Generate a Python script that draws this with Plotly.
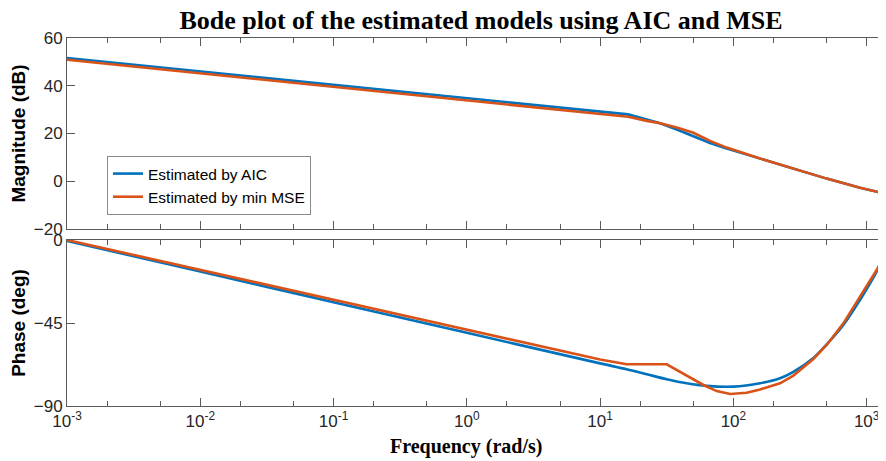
import numpy as np
import plotly.graph_objects as go

# ---- data (frequency in rad/s) ----
mag_freq_aic = [1e-3, 1e-2, 1e-1, 1e0, 1e1, 16.2, 22.4, 28.2, 37.6, 50.1, 66.8, 89.1, 158.5, 281.8, 501.2, 891.3, 1400.0]
mag_aic = [51.6, 46.0, 40.4, 34.8, 29.2, 28.0, 25.9, 24.3, 21.7, 18.9, 16.0, 13.7, 9.5, 5.3, 1.1, -2.7, -5.3]

mag_freq_mse = [1e-3, 1e-2, 1e-1, 1e0, 1e1, 16.2, 22.4, 28.2, 37.6, 50.1, 66.8, 89.1, 158.5, 281.8, 501.2, 891.3, 1400.0]
mag_mse = [50.9, 45.2, 39.5, 33.9, 28.2, 27.0, 25.3, 24.3, 22.5, 20.3, 16.9, 14.1, 9.5, 5.3, 1.1, -2.7, -5.3]

ph_freq_aic = [1e-3, 1e-2, 1e-1, 1e0, 1e1, 15.8, 22.4, 31.6, 44.7, 63.1, 100.0, 158.5, 223.9, 281.8, 398.1, 501.2, 668.3, 891.3, 1188.5, 1400.0]
ph_aic = [-0.5, -17.1, -33.7, -50.3, -66.9, -70.1, -72.8, -75.5, -77.7, -79.1, -79.5, -77.7, -75.0, -71.5, -64.0, -56.6, -46.1, -32.5, -17.2, -6.3]

ph_freq_mse = [1e-3, 1e-2, 1e-1, 1e0, 1e1, 15.8, 31.6, 59.6, 75.0, 94.4, 125.9, 158.5, 223.9, 281.8, 398.1, 501.2, 668.3, 891.3, 1188.5, 1400.0]
ph_mse = [0.0, -16.2, -32.4, -48.6, -64.8, -67.4, -67.4, -78.6, -81.9, -83.5, -82.8, -81.0, -77.7, -73.5, -64.5, -56.9, -45.2, -30.7, -16.3, -6.3]

series_names = ["Estimated by AIC", "Estimated by min MSE"]
colors = ["#0072BD", "#D95319"]

x_tickvals = [1e-3, 1e-2, 1e-1, 1e0, 1e1, 1e2, 1e3]
x_ticktext = ["10<sup>-3</sup>", "10<sup>-2</sup>", "10<sup>-1</sup>", "10<sup>0</sup>",
              "10<sup>1</sup>", "10<sup>2</sup>", "10<sup>3</sup>"]

# page body has an ~8px offset; size the figure so it fits the 886x461 window
OFF = 8
W, H = 886 - OFF, 461 - OFF
ml, mr, mt = 67 - OFF, 0, 38 - OFF
plot_bottom = 406 - OFF
mb = H - plot_bottom

fig = go.Figure()
fig.add_trace(go.Scatter(x=mag_freq_aic, y=mag_aic, mode="lines", name=series_names[0],
                         line=dict(color=colors[0], width=2.6), xaxis="x", yaxis="y"))
fig.add_trace(go.Scatter(x=mag_freq_mse, y=mag_mse, mode="lines", name=series_names[1],
                         line=dict(color=colors[1], width=2.6), xaxis="x", yaxis="y"))
fig.add_trace(go.Scatter(x=ph_freq_aic, y=ph_aic, mode="lines", showlegend=False,
                         line=dict(color=colors[0], width=2.6, shape="spline", smoothing=1.0),
                         xaxis="x2", yaxis="y2"))
fig.add_trace(go.Scatter(x=ph_freq_mse, y=ph_mse, mode="lines", showlegend=False,
                         line=dict(color=colors[1], width=2.6), xaxis="x2", yaxis="y2"))

axcol = "#5a5a5a"
tickfont = dict(family="Liberation Sans, Arial", size=17, color="#262626")
common_x = dict(type="log", range=[-3, 3.145], tickvals=x_tickvals, ticktext=x_ticktext,
                ticks="inside", ticklen=8, automargin=False,
                tickcolor=axcol, showline=True, linecolor=axcol, linewidth=1, mirror="ticks",
                showgrid=False, zeroline=False,
                minor=dict(ticks="inside", ticklen=5, tickcolor=axcol, showgrid=False),
                tickfont=tickfont)
common_y = dict(ticks="inside", ticklen=8, tickcolor=axcol, showline=True, linecolor=axcol,
                linewidth=1, showgrid=False, zeroline=False, tickfont=tickfont, automargin=False)

plot_h = H - mt - mb
top_dom = [(406 - 229) / plot_h, 1.0]
bot_dom = [0.0, (406 - 240) / plot_h]

fig.update_layout(
    width=W, height=H,
    margin=dict(l=ml, r=mr, t=mt, b=mb, autoexpand=False),
    paper_bgcolor="white", plot_bgcolor="white",
    title=dict(text="<b>Bode plot of the estimated models using AIC and MSE</b>",
               x=(481 - OFF) / W, xanchor="center", y=1 - (20 - OFF) / H, yanchor="middle",
               font=dict(family="Liberation Serif, Times New Roman", size=26, color="black")),
    xaxis=dict(common_x, anchor="y", showticklabels=False),
    xaxis2=dict(common_x, anchor="y2", matches="x"),
    yaxis=dict(common_y, domain=top_dom, range=[-20, 60], tickvals=[-20, 0, 20, 40, 60],
               anchor="x",
               title=dict(text="<b>Magnitude (dB)</b>", standoff=8,
                          font=dict(family="Liberation Sans, Arial", size=19, color="black"))),
    yaxis2=dict(common_y, domain=bot_dom, range=[-90, 0], tickvals=[-90, -45, 0],
                anchor="x2",
                title=dict(text="<b>Phase (deg)</b>", standoff=8,
                           font=dict(family="Liberation Sans, Arial", size=19, color="black"))),
    legend=dict(x=(107 - 67) / (W - ml), y=(406 - 156) / plot_h, xanchor="left", yanchor="top",
                bgcolor="white", bordercolor="#8a8a8a", borderwidth=1,
                font=dict(family="Liberation Sans, Arial", size=15.5, color="black"),
                tracegroupgap=0, itemwidth=30),
    annotations=[dict(text="<b>Frequency (rad/s)</b>", xref="paper", yref="paper",
                      x=(466 - 67) / (W - ml), y=(406 - 447) / plot_h,
                      xanchor="center", yanchor="middle", showarrow=False,
                      font=dict(family="Liberation Serif, Times New Roman", size=20, color="black"))],
)

fig.write_html("out.html")
